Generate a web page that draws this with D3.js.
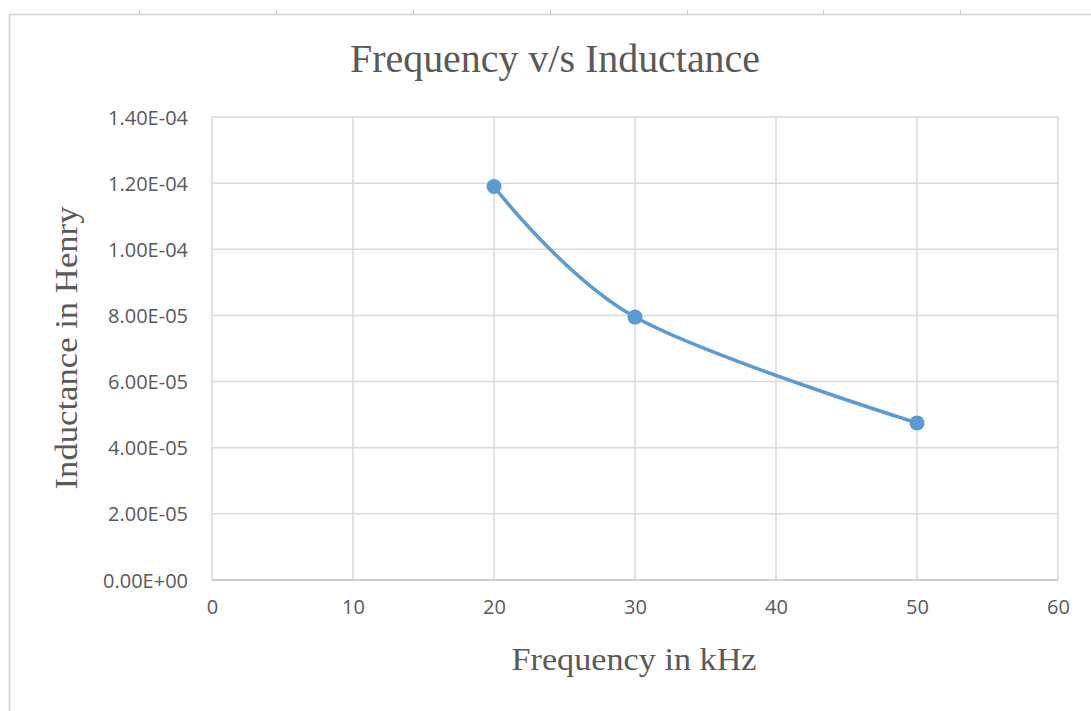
<!DOCTYPE html>
<html><head><meta charset="utf-8">
<script src="https://cdn.jsdelivr.net/npm/d3@7/dist/d3.min.js"></script>
<style>body{margin:0;background:#fff}svg{display:block}</style>
</head><body>
<svg id="c" width="1091" height="711"></svg>
<script>
const frequency = [20, 30, 50];
const inductance = [1.19e-4, 7.95e-5, 4.75e-5];
const xTicks = [0, 10, 20, 30, 40, 50, 60];
const yTicks = [0, 2e-5, 4e-5, 6e-5, 8e-5, 1e-4, 1.2e-4, 1.4e-4];
const titleText = "Frequency v/s Inductance";
const xTitle = "Frequency in kHz";
const yTitle = "Inductance in Henry";
const sheetCols = [139, 276, 413, 550, 687, 823, 960];

const svg = d3.select("#c");
const W = 1091, H = 711;
const m = {l: 212, r: 1058, t: 117, b: 580};
const x = d3.scaleLinear().domain([0, 60]).range([m.l, m.r]);
const y = d3.scaleLinear().domain([0, 1.4e-4]).range([m.b, m.t]);

// chart frame
svg.append("path").attr("d", `M9.5,${H+5}V14.5H${W+5}`).attr("fill","none").attr("stroke","#d0d0d0").attr("stroke-width",1.5);
svg.selectAll(".sc").data(sheetCols).join("line").attr("x1",d=>d+0.5).attr("x2",d=>d+0.5).attr("y1",10).attr("y2",14).attr("stroke","#c8c8c8");

// gridlines
const grid = svg.append("g");
grid.selectAll(".gy").data(yTicks).join("line")
  .attr("x1", m.l).attr("x2", m.r).attr("y1", d=>y(d)).attr("y2", d=>y(d))
  .attr("stroke", "#d9d9d9").attr("stroke-width", 1.5);
grid.selectAll(".gx").data(xTicks).join("line")
  .attr("y1", m.t).attr("y2", m.b).attr("x1", d=>x(d)).attr("x2", d=>x(d))
  .attr("stroke", "#d9d9d9").attr("stroke-width", 1.5);
svg.append("line").attr("x1", m.l).attr("x2", m.r).attr("y1", y(0)).attr("y2", y(0)).attr("stroke","#c8c8c8").attr("stroke-width",1.5);

// axes
const fmtE = d => { const s = d3.format(".2e")(d); return s.replace(/e([+-])(\d)$/, "E$10$2").replace(/e([+-])(\d\d)$/, "E$1$2").toUpperCase(); };
const yAx = svg.append("g").attr("transform", `translate(${m.l},0)`)
  .call(d3.axisLeft(y).tickValues(yTicks).tickFormat(fmtE).tickSize(0).tickPadding(24));
const xAx = svg.append("g").attr("transform", `translate(0,${m.b})`)
  .call(d3.axisBottom(x).tickValues(xTicks).tickSize(0).tickPadding(22));
[yAx, xAx].forEach(g => {
  g.select(".domain").remove();
  g.selectAll("text").attr("fill", "#595959").style("font-family", "'Open Sans', sans-serif").style("font-size", "20px");
});
yAx.selectAll("text").attr("dy", "0.35em");
xAx.selectAll("text").attr("dy", "0.6em");

// line
const pts = frequency.map((f,i)=>[f, inductance[i]]);
svg.append("path").datum(pts)
  .attr("d", d3.line().x(d=>x(d[0])).y(d=>y(d[1])).curve(d3.curveCatmullRom.alpha(0)))
  .attr("fill","none").attr("stroke","#5b9bd5").attr("stroke-width",3.5).attr("stroke-linecap","round");
svg.selectAll(".pt").data(pts).join("circle")
  .attr("cx", d=>x(d[0])).attr("cy", d=>y(d[1])).attr("r", 7.5).attr("fill","#5b9bd5");

// titles
const serif = "'Liberation Serif', serif";
svg.append("text").attr("x", 555).attr("y", 72).attr("text-anchor","middle")
  .attr("textLength", 410).attr("lengthAdjust","spacingAndGlyphs")
  .style("font-family",serif).style("font-size","40px").attr("fill","#595959").text(titleText);
svg.append("text").attr("x", 634).attr("y", 670).attr("text-anchor","middle")
  .attr("textLength", 245).attr("lengthAdjust","spacingAndGlyphs")
  .style("font-family",serif).style("font-size","32px").attr("fill","#595959").text(xTitle);
svg.append("text").attr("transform", "translate(77,348) rotate(-90)").attr("text-anchor","middle")
  .attr("textLength", 283).attr("lengthAdjust","spacingAndGlyphs")
  .style("font-family",serif).style("font-size","32px").attr("fill","#595959").text(yTitle);
</script>
</body></html>
